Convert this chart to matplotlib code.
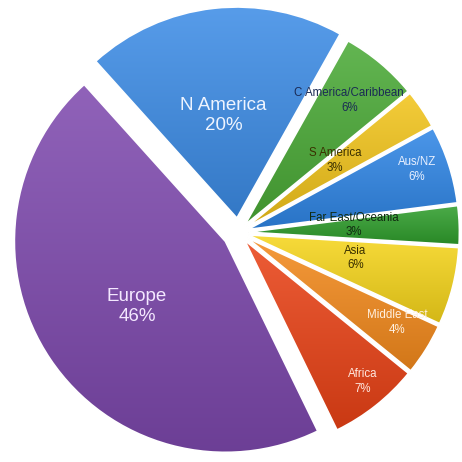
import numpy as np
import matplotlib
matplotlib.use("Agg")
import matplotlib.pyplot as plt
from matplotlib.colors import to_rgb
from matplotlib.patches import PathPatch

# region shares (percent)
regions = ["N America", "C America/Caribbean", "S America", "Aus/NZ",
           "Far East/Oceania", "Asia", "Middle East", "Africa", "Europe"]
shares = [20, 6, 3, 6, 3, 6, 4, 7, 46]
pct_labels = ["20%", "6%", "3%", "6%", "3%", "6%", "4%", "7%", "46%"]

colors = ["#3c8ce6", "#4aaa36", "#f2c41a", "#2f86e6", "#2f9e2c",
          "#f6d51a", "#f48a1c", "#ea4216", "#7e49ae"]
text_colors = ["#eef4ff", "#1a2a55", "#3a3000", "#e8f0ff", "#102a10",
               "#3a3000", "#fff0e0", "#ffe8e0", "#f4e8ff"]
explode = [0.069, 0.047, 0.047, 0.047, 0.047, 0.047, 0.047, 0.047, 0.075]
label_r = [0.49, 0.77, 0.525, 0.85, 0.50, 0.52, 0.82, 0.875, 0.52]
label_da = [1, 0, 3, 1.5, 2, 2, 2.5, 1.5, 2.4]
big = [True, False, False, False, False, False, False, False, True]

plt.rcParams['font.family'] = ['Liberation Sans', 'DejaVu Sans']

R = 211.0
fig = plt.figure(figsize=(4.62, 4.62), dpi=100)
ax = fig.add_axes([0, 0, 1, 1])

wedges, _ = ax.pie(shares, colors=colors, explode=explode, startangle=132,
                   counterclock=False, radius=1.0,
                   wedgeprops=dict(edgecolor="white", linewidth=1.2))

# soft vertical gradient inside every slice (light top, darker bottom)
t = np.linspace(0, 1, 256)[:, None]
for w, c in zip(wedges, colors):
    base = np.array(to_rgb(c))
    top = base + (1 - base) * 0.14
    bot = base * 0.86
    grad = top[None, None, :] * (1 - t[:, :, None]) + bot[None, None, :] * t[:, :, None]
    grad = np.repeat(grad, 2, axis=1)
    bb = w.get_path().get_extents()
    im = ax.imshow(grad, extent=(bb.x0, bb.x1, bb.y0, bb.y1), origin="upper",
                   aspect="auto", zorder=2, interpolation="bilinear")
    im.set_clip_path(w)
    ax.add_patch(PathPatch(w.get_path(), transform=w.get_transform(),
                           fc="none", ec="white", lw=1.2, zorder=3))

for i, w in enumerate(wedges):
    mid = np.deg2rad((w.theta1 + w.theta2) / 2 + label_da[i])
    cx, cy = w.center
    x = cx + label_r[i] * np.cos(mid)
    y = cy + label_r[i] * np.sin(mid)
    if big[i]:
        ax.text(x, y, regions[i] + "\n" + pct_labels[i], ha="center", va="center",
                fontsize=13.5, color=text_colors[i], linespacing=1.2, zorder=4)
    else:
        ax.text(x, y, regions[i] + "\n" + pct_labels[i], ha="center", va="center",
                fontsize=8.3, color=text_colors[i], linespacing=1.3, zorder=4)

ax.set_xlim(-238.5 / R, (462 - 238.5) / R)
ax.set_ylim(-229.5 / R, 232.5 / R)
ax.set_aspect("equal")
ax.axis("off")

fig.savefig("out.png", dpi=100)
